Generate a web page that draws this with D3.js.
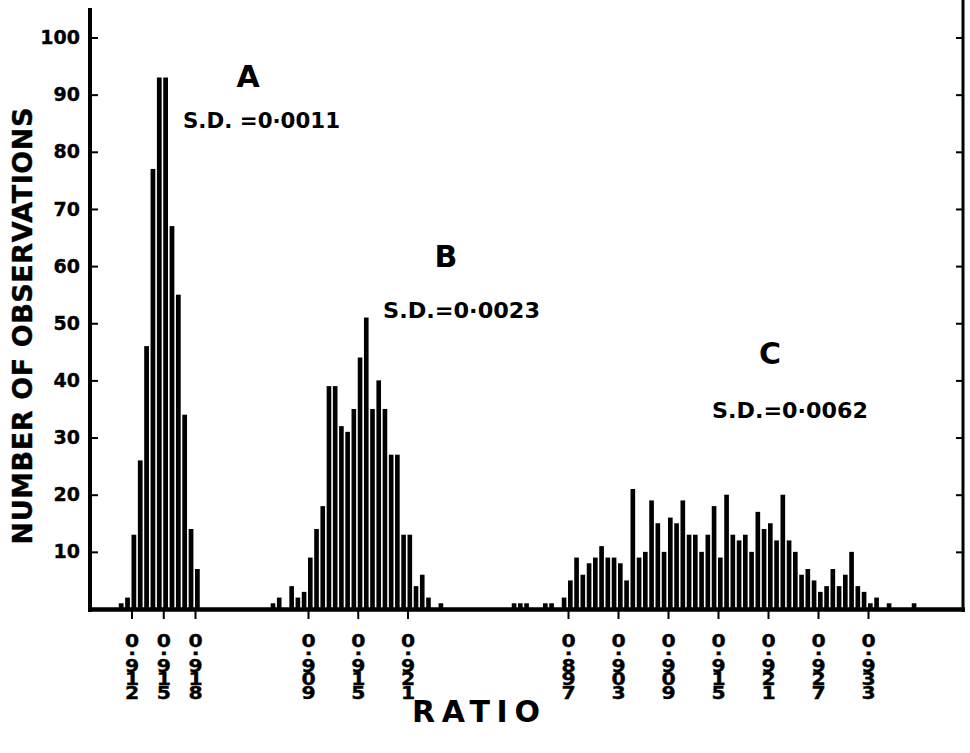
<!DOCTYPE html>
<html><head><meta charset="utf-8">
<script src="https://cdn.jsdelivr.net/npm/d3@7"></script>
<style>body{margin:0;background:#fff} svg{display:block}</style>
</head><body>
<svg id="chart" width="970" height="753"></svg>
<script>
// ---- data ----
const countsA = [1,2,13,26,46,77,93,93,67,55,34,14,7];
const countsB = [1,2,0,4,2,3,9,14,18,39,39,32,31,35,44,51,35,40,35,27,27,13,13,4,6,2,0,1];
const countsC = [1,1,1,0,0,1,1,0,2,5,9,6,8,9,11,9,9,8,5,21,9,10,19,15,10,16,15,19,13,13,10,13,18,9,20,13,12,13,10,17,14,15,12,20,12,10,6,7,5,3,4,7,4,6,10,4,3,1,2,0,1,0,0,0,1];
const binStartA = 0.9108, binWidthA = 0.0006;
const binStartB = 0.9045, binWidthB = 0.00075;
const binStartC = 0.89025, binWidthC = 0.00075;
const ticksA = [0.912, 0.915, 0.918];
const ticksB = [0.909, 0.915, 0.921];
const ticksC = [0.897, 0.903, 0.909, 0.915, 0.921, 0.927, 0.933];
const yTicks = [10,20,30,40,50,60,70,80,90,100];
const groupNames = ["A","B","C"];
const sdLabels = ["S.D. =0\u00B70011","S.D.=0\u00B70023","S.D.=0\u00B70062"];
const yTitle = "NUMBER OF OBSERVATIONS";
const xTitle = "RATIO";

// ---- layout ----
const FONT = "'DejaVu Sans', sans-serif";
const svg = d3.select("#chart");
const y = d3.scaleLinear().domain([0,100]).range([609, 37.5]);
const xA = d3.scaleLinear().domain([0.912,0.918]).range([131.5,195]);
const xB = d3.scaleLinear().domain([0.909,0.921]).range([308,407.5]);
const xC = d3.scaleLinear().domain([0.897,0.933]).range([568,868]);

const groups = [
  {counts: countsA, start: binStartA, width: binWidthA, x: xA, ticks: ticksA},
  {counts: countsB, start: binStartB, width: binWidthB, x: xB, ticks: ticksB},
  {counts: countsC, start: binStartC, width: binWidthC, x: xC, ticks: ticksC}
];

groups.forEach(g => {
  const bins = g.counts.map((c, i) => ({edge: g.start + i * g.width, count: c}));
  const px = g.x(g.start + g.width) - g.x(g.start);
  svg.append("g").selectAll("rect").data(bins.filter(d => d.count > 0)).join("rect")
    .attr("x", d => g.x(d.edge))
    .attr("y", d => y(d.count))
    .attr("width", px - 1.6)
    .attr("height", d => y(0) - y(d.count))
    .attr("fill", "#000");

  // x axis ticks with vertically stacked labels
  const ax = svg.append("g").attr("transform", "translate(0,610)")
    .call(d3.axisBottom(g.x).tickValues(g.ticks).tickSize(9).tickFormat(d => d3.format(".3f")(d)));
  ax.select(".domain").remove();
  ax.selectAll(".tick line").attr("stroke", "#000").attr("stroke-width", 2);
  ax.selectAll(".tick text").each(function(d) {
    const s = d3.format(".3f")(d);
    const t = d3.select(this).text(null).attr("y", null).attr("dy", null)
      .attr("font-family", FONT).attr("font-weight", "bold").attr("font-size", 17)
      .attr("fill", "#000").attr("stroke", "#000").attr("stroke-width", 0.35)
      .attr("text-anchor", "middle")
      .attr("transform", "scale(1.2,1)");
    const chars = [s[0], ".", s[2], s[3], s[4]];
    const ys = [37, 45.5, 62, 75.5, 89];
    chars.forEach((ch, k) => t.append("tspan").attr("x", 0).attr("y", ys[k]).text(ch));
  });
});

// left axis
const yl = svg.append("g").attr("transform", "translate(90,0)")
  .call(d3.axisLeft(y).tickValues(yTicks).tickSize(-8).tickPadding(10));
yl.select(".domain").remove();
yl.selectAll(".tick line").attr("stroke", "#000").attr("stroke-width", 2);
yl.selectAll(".tick text").attr("font-family", FONT).attr("font-weight", "bold")
  .attr("font-size", 19).attr("fill", "#000").attr("stroke", "#000").attr("stroke-width", 0.35);

// right axis
const yr = svg.append("g").attr("transform", "translate(963,0)")
  .call(d3.axisRight(y).tickValues(yTicks).tickSize(-7).tickFormat(""));
yr.select(".domain").remove();
yr.selectAll(".tick line").attr("stroke", "#000").attr("stroke-width", 2);

// frame lines
svg.append("line").attr("x1", 90).attr("x2", 90).attr("y1", 8).attr("y2", 612)
  .attr("stroke", "#000").attr("stroke-width", 4);
svg.append("line").attr("x1", 963).attr("x2", 963).attr("y1", 0).attr("y2", 612)
  .attr("stroke", "#000").attr("stroke-width", 3);
svg.append("line").attr("x1", 88).attr("x2", 965).attr("y1", 609.5).attr("y2", 609.5)
  .attr("stroke", "#000").attr("stroke-width", 4.5);

// group letters and S.D. labels
const letterPos = [[248, 87], [446, 267], [770, 364]];
const sdPos = [[183, 128, 157], [383, 318, 157], [712, 418, 156]];
groupNames.forEach((n, i) => {
  svg.append("text").attr("x", letterPos[i][0]).attr("y", letterPos[i][1])
    .attr("text-anchor", "middle").attr("font-family", FONT).attr("font-weight", "bold")
    .attr("font-size", 30).attr("fill", "#000").text(n);
  svg.append("text").attr("x", sdPos[i][0]).attr("y", sdPos[i][1])
    .attr("font-family", FONT).attr("font-weight", "bold").attr("font-size", 22)
    .attr("textLength", sdPos[i][2]).attr("lengthAdjust", "spacingAndGlyphs")
    .attr("fill", "#000").text(sdLabels[i]);
});

// titles
svg.append("text").attr("transform", "translate(32,326) rotate(-90)")
  .attr("text-anchor", "middle").attr("font-family", FONT).attr("font-weight", "bold")
  .attr("font-size", 27).attr("textLength", 437).attr("lengthAdjust", "spacing")
  .attr("fill", "#000").attr("stroke", "#000").attr("stroke-width", 0.4).text(yTitle);
svg.append("text").attr("x", 412).attr("y", 722)
  .attr("font-family", FONT).attr("font-weight", "bold")
  .attr("font-size", 30).attr("textLength", 128).attr("lengthAdjust", "spacing")
  .attr("fill", "#000").text(xTitle);
</script>
</body></html>
